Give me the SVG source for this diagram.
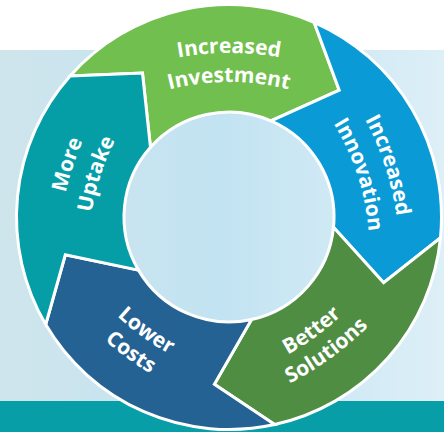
<svg xmlns="http://www.w3.org/2000/svg" width="444" height="432" viewBox="0 0 444 432">
  <defs>
    <linearGradient id="bg" x1="0" y1="0" x2="1" y2="0">
      <stop offset="0" stop-color="#cfe5ec"/>
      <stop offset="0.5" stop-color="#c2e3f2"/>
      <stop offset="1" stop-color="#ddeff7"/>
    </linearGradient>
    <path id="t1a" d="M154.8,62.5 A295,295 0 0 1 303.2,62.5"/>
    <path id="t1b" d="M155.2,93.5 A243,243 0 0 1 302.8,93.5"/>
    <path id="t2a" d="M353.0,98.7 A295,295 0 0 1 398.9,239.9"/>
    <path id="t2b" d="M323.7,108.7 A243,243 0 0 1 369.3,249.0"/>
    <path id="t3a" d="M249.9,371.7 A266,266 0 0 0 369.6,284.7"/>
    <path id="t3b" d="M265.9,394.3 A313,313 0 0 0 386.1,307.0"/>
    <path id="t4a" d="M88.4,284.7 A266,266 0 0 0 208.1,371.7"/>
    <path id="t4b" d="M71.9,307.0 A313,313 0 0 0 192.1,394.3"/>
    <path id="t5a" d="M59.1,239.9 A295,295 0 0 1 105.0,98.7"/>
    <path id="t5b" d="M88.7,249.0 A243,243 0 0 1 134.3,108.7"/>
  </defs>
  <style>
    .seg { stroke: #ffffff; stroke-width: 3; stroke-linejoin: miter; }
    .lbl { font-family: "Open Sans", "Noto Sans", "DejaVu Sans", sans-serif; font-weight: 700; font-size: 21px; fill: #ffffff; text-anchor: middle; }
  </style>
  <rect x="0" y="0" width="444" height="432" fill="#ffffff"/>
  <rect x="0" y="50" width="444" height="351" fill="url(#bg)"/>
  <rect x="0" y="401" width="444" height="31" fill="#089ea7"/>

  <g id="increased-investment">
    <path class="seg" fill="#71bf4e" d="M70.09,75.91 A212.5,212.5 0 0 1 314.07,22.27 L339.22,90.21 L271.04,120.78 A105,105 0 0 0 150.48,147.29 L142.47,73.00 Z"/>
    <text class="lbl"><textPath href="#t1a" startOffset="50%">Increased</textPath></text>
    <text class="lbl"><textPath href="#t1b" startOffset="50%">Investment</textPath></text>
  </g>
  <g id="increased-innovation">
    <path class="seg" fill="#0a9bd7" d="M314.07,22.27 A212.5,212.5 0 0 1 440.49,237.74 L383.64,282.64 L333.50,227.25 A105,105 0 0 0 271.04,120.78 L339.22,90.21 Z"/>
    <text class="lbl"><textPath href="#t2a" startOffset="50%">Increased</textPath></text>
    <text class="lbl"><textPath href="#t2b" startOffset="50%">Innovation</textPath></text>
  </g>
  <g id="better-solutions">
    <path class="seg" fill="#4f8e42" d="M440.49,237.74 A212.5,212.5 0 0 1 274.63,424.54 L214.36,384.36 L251.55,319.55 A105,105 0 0 0 333.50,227.25 L383.64,282.64 Z"/>
    <text class="lbl"><textPath href="#t3a" startOffset="50%">Better</textPath></text>
    <text class="lbl"><textPath href="#t3b" startOffset="50%">Solutions</textPath></text>
  </g>
  <g id="lower-costs">
    <path class="seg" fill="#256294" d="M274.63,424.54 A212.5,212.5 0 0 1 45.72,324.53 L65.31,254.79 L138.44,270.13 A105,105 0 0 0 251.55,319.55 L214.36,384.36 Z"/>
    <text class="lbl"><textPath href="#t4a" startOffset="50%">Lower</textPath></text>
    <text class="lbl"><textPath href="#t4b" startOffset="50%">Costs</textPath></text>
  </g>
  <g id="more-uptake">
    <path class="seg" fill="#059ea7" d="M45.72,324.53 A212.5,212.5 0 0 1 70.09,75.91 L142.47,73.00 L150.48,147.29 A105,105 0 0 0 138.44,270.13 L65.31,254.79 Z"/>
    <text class="lbl"><textPath href="#t5a" startOffset="50%">More</textPath></text>
    <text class="lbl"><textPath href="#t5b" startOffset="50%">Uptake</textPath></text>
  </g>
</svg>
